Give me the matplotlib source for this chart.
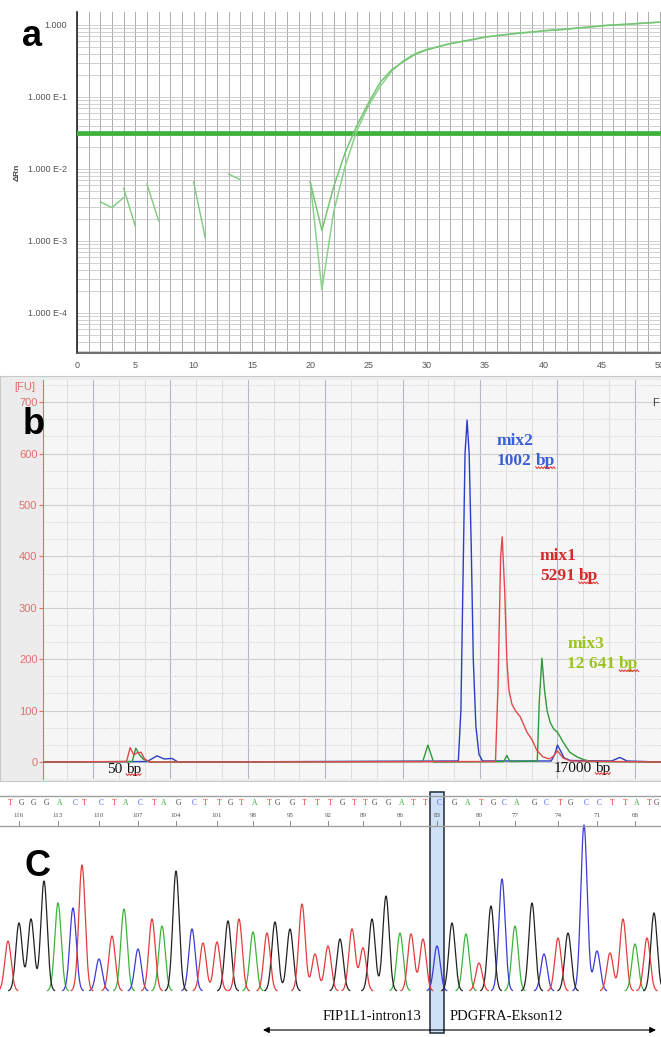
import numpy as np
import matplotlib
matplotlib.use("Agg")
import matplotlib.pyplot as plt
from matplotlib.lines import Line2D
from matplotlib.patches import Rectangle
from matplotlib.ticker import FixedLocator, LogLocator, NullFormatter

W, H = 661, 1037
SANS = ["Liberation Sans", "DejaVu Sans"]
SERIF = ["Liberation Serif", "DejaVu Serif"]

# a: real-time PCR, delta Rn per cycle (log scale)
cycles = list(range(20, 51))
rn_sample1 = [0.0066, 0.00021, 0.0025, 0.011, 0.034, 0.076, 0.14, 0.23, 0.32, 0.40,
              0.46, 0.50, 0.55, 0.59, 0.63, 0.68, 0.71, 0.74, 0.78, 0.79,
              0.83, 0.85, 0.87, 0.91, 0.93, 0.98, 1.00, 1.02, 1.05, 1.07, 1.10]
rn_sample2 = [0.0066, 0.0014, 0.0056, 0.017, 0.040, 0.083, 0.16, 0.24, 0.31, 0.39,
              0.45, 0.50, 0.55, 0.59, 0.63, 0.68, 0.71, 0.74, 0.77, 0.80,
              0.83, 0.85, 0.88, 0.91, 0.94, 0.97, 1.00, 1.02, 1.04, 1.07, 1.09]
noise_cycles = [[2, 3, 4], [4, 5], [6, 7], [10, 11], [13, 14]]
noise_rn = [[0.0035, 0.0029, 0.0040], [0.0054, 0.0016], [0.0062, 0.0019],
            [0.0066, 0.0011], [0.0085, 0.0071]]
threshold = 0.032
rn_ticks = [1e-4, 1e-3, 1e-2, 1e-1, 1]
rn_ticklabels = ["1.000 E-4", "1.000 E-3", "1.000 E-2", "1.000 E-1", "1.000"]

# b: electropherogram, migration time [s] vs fluorescence [FU]
mix2_t = [35.3, 55.5, 57.4, 58.8, 60.3, 61.5, 115.8, 116.3, 116.7, 117.1, 117.5, 117.9,
          118.3, 118.7, 119.2, 119.8, 120.5, 133.8, 134.5, 135.0, 135.6, 136.3, 137.5,
          145.5, 147.1, 148.5, 155.1]
mix2_fu = [0, 1, 12, 6, 7, 0, 2, 100, 350, 600, 665, 600,
           420, 200, 70, 15, 2, 2, 15, 33, 22, 8, 3,
           2, 9, 2, 0]
mix1_t = [35.3, 51.5, 52.2, 52.9, 53.6, 54.3, 55.0, 56.0, 123.0, 123.5, 124.0, 124.3,
          124.8, 125.2, 125.6, 126.2, 127.0, 127.8, 128.5, 129.1, 130.1, 131.0, 132.2,
          133.5, 134.3, 135.0, 136.1, 137.5, 155.1]
mix1_fu = [0, 1, 28, 14, 18, 19, 6, 0, 1, 150, 400, 438,
           330, 200, 140, 112, 98, 88, 72, 58, 43, 23, 10,
           6, 12, 22, 8, 2, 0]
mix3_t = [35.3, 52.6, 53.3, 54.0, 54.8, 56.0, 108.9, 109.5, 109.9, 110.4, 111.0, 124.6,
          125.2, 125.8, 131.1, 131.5, 132.0, 132.5, 133.0, 133.6, 134.3, 135.0, 135.6,
          136.1, 137.4, 138.8, 140.0, 141.5, 155.1]
mix3_fu = [0, 1, 27, 14, 5, 0, 1, 20, 33, 18, 0, 1,
           13, 1, 2, 120, 202, 140, 100, 77, 64, 58, 48,
           39, 19, 10, 5, 1, 0]
fu_ticks = [0, 100, 200, 300, 400, 500, 600, 700]

# c: sequencing chromatogram (reverse strand numbering)
bases = "TGGGACTCTACTAGCTTGTATGGTTTGTTGGATTCGATGCAGCTGCCTTATG"
first_pos = 117
peak_scan = [8, 19, 31, 44, 58, 73, 82, 99, 112, 124, 138, 152, 162, 176, 192, 203, 217,
             228, 239, 253, 267, 275, 290, 302, 315, 328, 340, 352, 363, 372, 386, 400,
             411, 423, 437, 452, 466, 479, 491, 502, 515, 532, 544, 558, 568, 584, 597,
             610, 623, 635, 647, 654]
peak_height = [50, 68, 72, 110, 88, 83, 126, 32, 55, 82, 42, 72, 65, 120, 62, 48, 49,
               70, 72, 59, 58, 69, 62, 87, 37, 45, 52, 62, 43, 72, 95, 58,
               57, 52, 45, 68, 57, 28, 85, 112, 65, 88, 37, 53, 58, 166, 40,
               38, 72, 47, 53, 78]
breakpoint_pos = 83

trace_colors = {"A": "#3cb43c", "C": "#3b3bd6", "G": "#222222", "T": "#e23c3c"}
letter_colors = {"A": "#33aa33", "C": "#4a62e0", "G": "#444444", "T": "#e03333"}

fig = plt.figure(figsize=(W / 100, H / 100), dpi=100)
fig.patch.set_facecolor("white")


def px_axes(x0, y0, x1, y1, **kw):
    return fig.add_axes([x0 / W, 1 - y1 / H, (x1 - x0) / W, (y1 - y0) / H], **kw)


def px_text(x, y, s, **kw):
    return fig.text(x / W, 1 - y / H, s, **kw)


# ---------------- panel a ----------------
ax1 = px_axes(77, 12, 661, 353)
ax1.set_yscale("log")
ax1.set_xlim(0, 50.08)
ax1.set_ylim(10 ** -4.556, 10 ** 0.18)
ax1.set_xticks(range(0, 51, 5))
ax1.xaxis.set_minor_locator(FixedLocator(range(0, 51)))
ax1.set_yticks(rn_ticks, rn_ticklabels)
ax1.yaxis.set_minor_locator(LogLocator(base=10, subs=range(2, 10), numticks=20))
ax1.yaxis.set_minor_formatter(NullFormatter())
ax1.grid(which="both", axis="x", color="#ababab", lw=0.7)
ax1.grid(which="both", axis="y", color="#c8c8c8", lw=0.6)
ax1.tick_params(which="both", length=0)
ax1.tick_params(axis="x", labelsize=6.5, labelcolor="#555555", pad=6)
ax1.tick_params(axis="y", labelsize=6.5, labelcolor="#555555", pad=7)
for lab in ax1.get_xticklabels() + ax1.get_yticklabels():
    lab.set_family(SANS)
for side in ["top", "right"]:
    ax1.spines[side].set_visible(False)
ax1.spines["left"].set_color("#222222")
ax1.spines["bottom"].set_color("#555555")
ax1.spines["left"].set_linewidth(1.2)
ax1.spines["bottom"].set_linewidth(1.2)
ax1.set_axisbelow(True)

ax1.axhline(threshold, color="#3cb43c", lw=3.4, zorder=3)
for xs, ys in zip(noise_cycles, noise_rn):
    ax1.plot(xs, ys, color="#7ccc7c", lw=1.0, zorder=4)
ax1.plot(cycles, rn_sample1, color="#8ad28a", lw=1.1, zorder=4)
ax1.plot(cycles, rn_sample2, color="#76c676", lw=1.1, zorder=4)
px_text(17, 172, "ΔRn", rotation=90, fontsize=6, fontweight="bold",
        color="#444444", family=SANS, ha="center", va="center")

# ---------------- panel b ----------------
bg = px_axes(0, 376, 661, 781)
bg.set_facecolor("#ececec")
bg.set_xticks([])
bg.set_yticks([])
for side in bg.spines.values():
    side.set_color("#c9c9c9")

ax2 = px_axes(43, 380, 661, 779)
ax2.set_facecolor("#f6f6f6")
ax2.set_xlim(35.31, 155.08)
ax2.set_ylim(-33, 743)
ax2.set_xticks(np.arange(45, 151, 15))
ax2.xaxis.set_minor_locator(FixedLocator(np.arange(40, 156, 5)))
ax2.set_yticks(fu_ticks)
ax2.yaxis.set_minor_locator(FixedLocator([v + d for v in fu_ticks[:-1] for d in (100 / 3, 200 / 3)] + [733.3]))
ax2.grid(which="minor", axis="x", color="#dadada", lw=0.6)
ax2.grid(which="major", axis="x", color="#b3b8cc", lw=0.8)
ax2.grid(which="major", axis="y", color="#cfcfcf", lw=0.8)
ax2.grid(which="minor", axis="y", color="#cdcdcd", lw=0.7, linestyle=(0, (1, 1.6)))
ax2.set_axisbelow(True)
ax2.tick_params(axis="x", which="both", length=0, labelbottom=False)
ax2.tick_params(axis="y", which="minor", length=0)
ax2.tick_params(axis="y", which="major", length=3, color="#e07070", labelsize=8,
                labelcolor="#e07070", pad=1)
for lab in ax2.get_yticklabels():
    lab.set_family(SANS)
for side in ["top", "right", "bottom"]:
    ax2.spines[side].set_visible(False)
ax2.spines["left"].set_color("#e07070")

ax2.plot(mix2_t, mix2_fu, color="#2c3ec4", lw=1.0, zorder=3)
ax2.plot(mix3_t, mix3_fu, color="#2f9a3a", lw=1.0, zorder=3)
ax2.plot(mix1_t, mix1_fu, color="#e4474b", lw=1.0, zorder=3)

px_text(25, 387, "[FU]", fontsize=8, color="#e07070", family=SANS, ha="center", va="center")
ax2.text(153.3, 698, "F", fontsize=8, color="#444444", family=SANS, va="center")

squiggles = []


def size_label(x, y, number, color, size, weight):
    t = ax2.text(x, y, number, color=color, fontsize=size, fontweight=weight,
                 family=SERIF, va="baseline", zorder=5)
    b = ax2.annotate("bp", xy=(1, 0), xycoords=t, xytext=(2.8, 0), textcoords="offset points",
                     ha="left", va="bottom", color=color, fontsize=size, fontweight=weight,
                     family=SERIF, zorder=5)
    squiggles.append(b)


ax2.text(123.3, 617, "mix2", color="#3a5fd6", fontsize=12.5, fontweight="bold", family=SERIF)
size_label(123.3, 578, "1002", "#3a5fd6", 12.5, "bold")
ax2.text(131.6, 393, "mix1", color="#d42a2a", fontsize=12.5, fontweight="bold", family=SERIF)
size_label(131.6, 354, "5291", "#d42a2a", 12.5, "bold")
ax2.text(136.9, 222, "mix3", color="#9cc41e", fontsize=12.5, fontweight="bold", family=SERIF)
size_label(136.9, 183, "12 641", "#9cc41e", 12.5, "bold")
size_label(47.7, -21, "50", "#111111", 11, "normal")
size_label(134.2, -19, "17000", "#111111", 11, "normal")

# ---------------- panel c ----------------
chrom = px_axes(0, 824, 661, 1000)
chrom.set_facecolor("none")
chrom.set_xlim(0, 661)
chrom.set_ylim(-9, 167)
chrom.axis("off")

scan = np.linspace(0, 661, 2645)
for base, col in trace_colors.items():
    trace = np.zeros_like(scan)
    for b, p, h in zip(bases, peak_scan, peak_height):
        if b == base:
            trace += h * np.exp(-0.5 * ((scan - p) / 3.2) ** 2)
    # leave the flat baseline undrawn so only the peaks show
    trace[trace < 0.4] = np.nan
    chrom.plot(scan, trace, color=col, lw=0.9, zorder=2)

bp_index = first_pos - breakpoint_pos
bp_scan = peak_scan[bp_index]
chrom.add_patch(Rectangle((bp_scan - 7, -42), 14, 241, facecolor="#cfe1f6",
                          edgecolor="#1e2b3a", lw=1.1, clip_on=False, zorder=0))
chrom.annotate("", xy=(656, -39), xytext=(263, -39), annotation_clip=False,
               arrowprops=dict(arrowstyle="<|-|>", lw=0.8, color="black", mutation_scale=9,
                               shrinkA=0, shrinkB=0))
chrom.text(bp_scan - 16, -26, "FIP1L1-intron13", ha="right", va="center", fontsize=10.5,
           family=SERIF, color="#111111")
chrom.text(bp_scan + 13, -26, "PDGFRA-Ekson12", ha="left", va="center", fontsize=10.5,
           family=SERIF, color="#111111")

strip = px_axes(0, 792, 661, 828)
strip.set_facecolor("none")
strip.set_xlim(0, 661)
strip.set_ylim(0, 1)
strip.axis("off")
strip.axhline(0.889, color="#a0a0a0", lw=1.0)
strip.axhline(0.056, color="#a0a0a0", lw=1.0)
for i, (b, p) in enumerate(zip(bases, peak_scan)):
    pos = first_pos - i
    strip.text(p + 2, 0.69, b, color=letter_colors[b], fontsize=5.5, family=SERIF,
               ha="center", va="center")
    if pos % 3 == 2:
        strip.text(p, 0.36, str(pos), color="#555555", fontsize=5, family=SERIF,
                   ha="center", va="center")
        strip.plot([p, p], [0.08, 0.2], color="#777777", lw=0.6)

# panel letters
px_text(32, 37, "a", fontsize=26, fontweight="bold", family=SANS, ha="center", va="center")
px_text(34, 424, "b", fontsize=26, fontweight="bold", family=SANS, ha="center", va="center")
px_text(37, 866, "C", fontsize=26, fontweight="bold", family=SANS, ha="center", va="center")

# red spell-check squiggles under "bp"
fig.canvas.draw()
renderer = fig.canvas.get_renderer()
for art in squiggles:
    bb = art.get_window_extent(renderer)
    xs = np.arange(bb.x0, bb.x1 + 0.5, 1.5)
    ys = bb.y0 + 1.2 + 0.9 * np.where(np.arange(len(xs)) % 2 == 0, 1, -1)
    fig.add_artist(Line2D(xs / W, ys / H, transform=fig.transFigure, color="#e03030", lw=0.7))

fig.savefig("out.png", dpi=100)
